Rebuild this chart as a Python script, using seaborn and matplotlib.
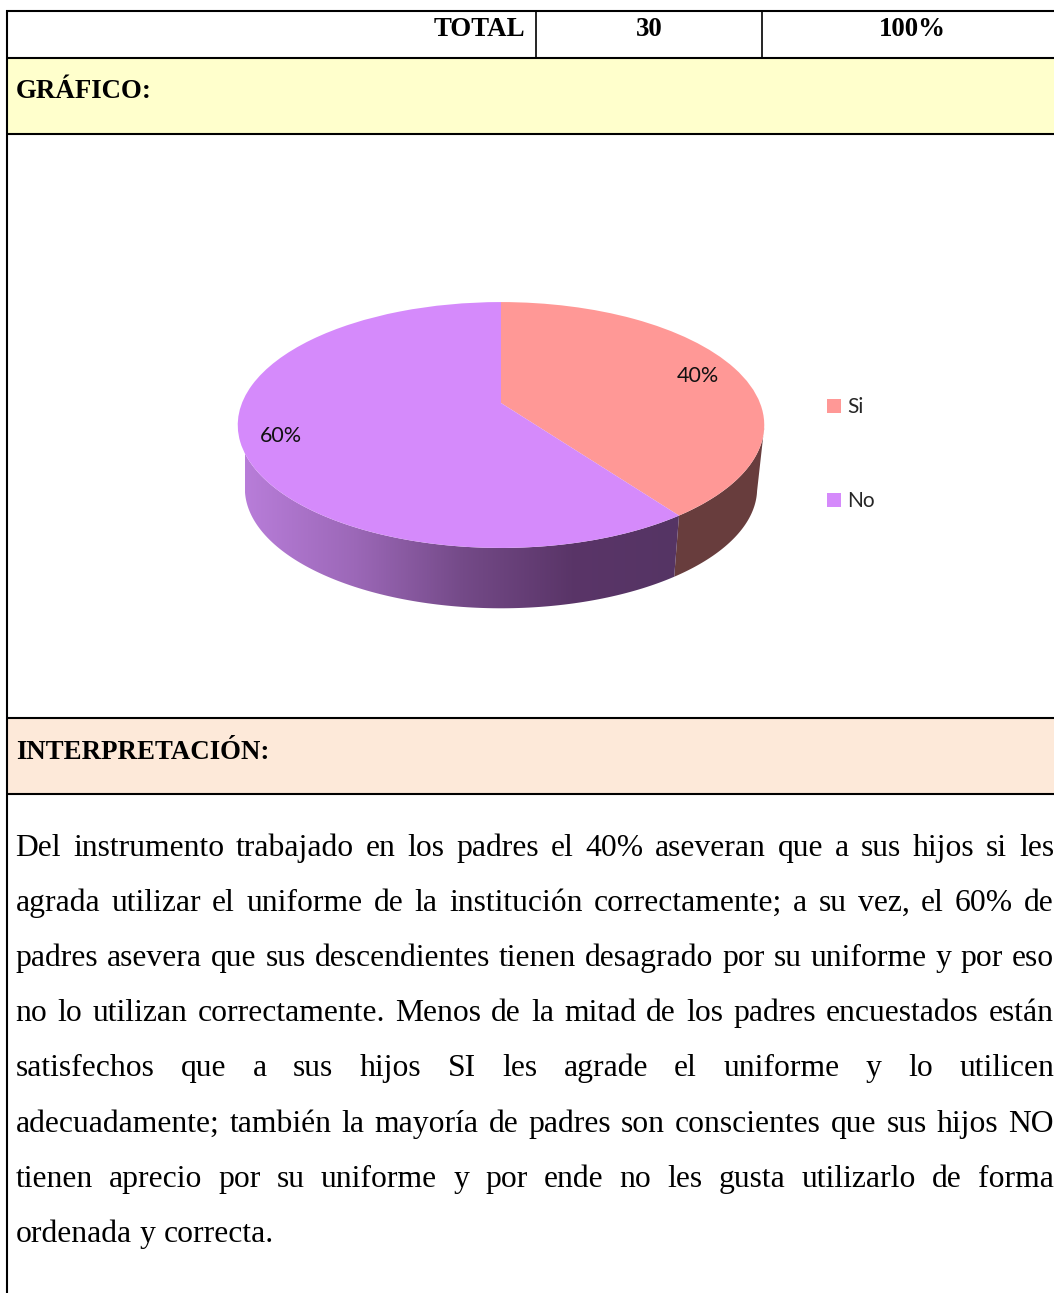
import numpy as np
import matplotlib
matplotlib.use("Agg")
import matplotlib.pyplot as plt
from matplotlib.colors import LinearSegmentedColormap
from matplotlib.patches import Polygon, Rectangle
from matplotlib.transforms import Transform
import seaborn as sns

# ---------- data ----------
categories = ["Si", "No"]
values = [40, 60]
pct_labels = ["40%", "60%"]
total_row = ["TOTAL", "30", "100%"]
head_chart = "GRÁFICO:"
head_interp = "INTERPRETACIÓN:"
body_lines = [
    "Del instrumento trabajado en los padres el 40% aseveran que a sus hijos si les",
    "agrada utilizar el uniforme de la institución correctamente; a su vez, el 60% de",
    "padres asevera que sus descendientes tienen desagrado por su uniforme y por eso",
    "no lo utilizan correctamente. Menos de la mitad de los padres encuestados están",
    "satisfechos que a sus hijos SI les agrade el uniforme y lo utilicen",
    "adecuadamente; también la mayoría de padres son conscientes que sus hijos NO",
    "tienen aprecio por su uniforme y por ende no les gusta utilizarlo de forma",
    "ordenada y correcta.",
]
line_baselines = [856, 911, 966, 1021, 1076, 1132, 1187, 1242]
face_colors = ["#FF9896", "#D58AFB"]
wall_stops = ["#B87DD9", "#9C68B8", "#744A88", "#5A3568", "#553464"]
wall_red = "#683D3D"

sns.set_theme(style="white")
W, H = 1054, 1293
fig = plt.figure(figsize=(W / 100, H / 100), dpi=100, facecolor="white")
ax = fig.add_axes([0, 0, 1, 1])
palette = sns.color_palette(face_colors)


class Persp(Transform):
    """Perspective projection of the unit pie disc to page pixels."""
    input_dims = output_dims = 2
    is_separable = False

    def __init__(self, a, b, k, x0, y0):
        super().__init__()
        self.a, self.b, self.k, self.x0, self.y0 = a, b, k, x0, y0

    def transform_non_affine(self, xy):
        xy = np.asarray(xy, float)
        d = 1 + self.k * xy[:, 1]
        return np.column_stack([self.x0 + self.a * xy[:, 0] / d,
                                self.y0 - self.b * xy[:, 1] / d])


top = Persp(259, 119, 0.179, 501, 403)
low = Persp(252, 116, 0.179, 501, 467)

# pie top face, through matplotlib's pie
wedges, _ = ax.pie(values, colors=palette, startangle=90, counterclock=False,
                   radius=1, wedgeprops=dict(linewidth=0))
for w in wedges:
    w.set_transform(top + ax.transData)
    w.set_zorder(5)

ax.set_aspect("auto")
ax.set_xlim(0, W)
ax.set_ylim(H, 0)
ax.set_position([0, 0, 1, 1])
ax.axis("off")


def rim(tr, a0, a1, n=120):
    th = np.radians(np.linspace(a0, a1, n))
    return tr.transform_non_affine(np.column_stack([np.sin(th), np.cos(th)]))


# side wall, from the slice angles
split = 360 * values[0] / sum(values)
sil_r, sil_l = 101.5, 258.5
purple = np.vstack([rim(top, split, sil_l), rim(low, sil_l, split)])
red = np.vstack([rim(top, sil_r, split), rim(low, split, sil_r)])
ax.add_patch(Polygon(red, closed=True, fc=wall_red, ec="none", zorder=2))
cm = LinearSegmentedColormap.from_list("wall", wall_stops)
grad = ax.imshow(np.linspace(0, 1, 256)[None, :], cmap=cm, aspect="auto",
                 extent=(245, 680, 620, 420), zorder=3)
clip = Polygon(purple, closed=True, transform=ax.transData, fc="none", ec="none")
ax.add_patch(clip)
grad.set_clip_path(clip)
ax.set_xlim(0, W)
ax.set_ylim(H, 0)

# slice labels
lab_font = "Lato"
ax.text(697.5, 376, pct_labels[0], ha="center", va="center", fontsize=15.5,
        family=lab_font, color="#111111", zorder=6)
ax.text(281, 436, pct_labels[1], ha="center", va="center", fontsize=15.5,
        family=lab_font, color="#111111", zorder=6)

# legend
leg = ax.legend(wedges, categories, loc="upper left", bbox_to_anchor=(827 / W, 1 - 397 / H),
                frameon=False, prop=dict(family=lab_font, size=15), handlelength=0.67,
                handleheight=0.67, handletextpad=0.29, labelspacing=3.55,
                borderpad=0.0, borderaxespad=0.0)
leg.set_zorder(6)

# page table
ax.add_patch(Rectangle((7, 58), W, 76, fc="#FFFFCC", ec="none", zorder=1))
ax.add_patch(Rectangle((7, 718), W, 76, fc="#FDE9D9", ec="none", zorder=1))
LW = 1.5
for y in [11, 58, 134, 718, 794]:
    ax.plot([6, W], [y, y], color="black", lw=LW, solid_capstyle="butt", zorder=4)
ax.plot([7, 7], [10, H], color="black", lw=LW, solid_capstyle="butt", zorder=4)
for x in [536, 762]:
    ax.plot([x, x], [11, 58], color="black", lw=1.2, solid_capstyle="butt", zorder=4)

serif = "Liberation Serif"
FS_B = 19.4
FS = 22.8
bold = dict(family=serif, fontsize=FS_B, fontweight="bold", color="black", va="baseline", zorder=6)
ax.text(525, 36, total_row[0], ha="right", **bold)
ax.text(649, 36, total_row[1], ha="center", **bold)
ax.text(912, 36, total_row[2], ha="center", **bold)
ax.text(16, 98, head_chart, ha="left", **bold)
ax.text(16, 759, head_interp, ha="left", **bold)

# justified body text
renderer = fig.canvas.get_renderer()
L, R = 15.5, 1054
for i, (line, yb) in enumerate(zip(body_lines, line_baselines)):
    words = line.split(" ")
    arts = [ax.text(L, yb, w, ha="left", va="baseline", family=serif, fontsize=FS,
                    color="black", zorder=6) for w in words]
    widths = [a.get_window_extent(renderer).width for a in arts]
    if i == len(body_lines) - 1:
        space = FS * (100 / 72) * 0.25
    else:
        space = (R - L - sum(widths)) / (len(words) - 1)
    x = L
    for a, wd in zip(arts, widths):
        a.set_x(x)
        x += wd + space

fig.savefig("out.png", dpi=100)
